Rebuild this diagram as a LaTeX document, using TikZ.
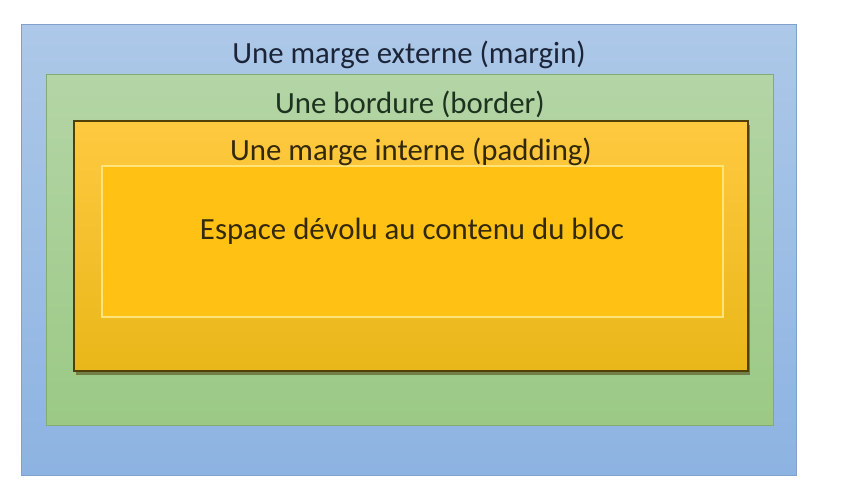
\documentclass[tikz,border=0pt]{standalone}
\usepackage{fontspec}
\setmainfont{Carlito}
\usetikzlibrary{shadows}
\definecolor{blueT}{HTML}{ADC8E8}
\definecolor{blueB}{HTML}{8DB3E2}
\definecolor{greenT}{HTML}{B4D5A6}
\definecolor{greenB}{HTML}{9BC985}
\definecolor{orT}{HTML}{FFC940}
\definecolor{orB}{HTML}{E9B719}
\definecolor{orIn}{HTML}{FFC214}
\definecolor{inLine}{HTML}{FFE47A}
\definecolor{txtBlue}{HTML}{1C2538}
\definecolor{txtGreen}{HTML}{1D3320}
\definecolor{txtBrown}{HTML}{33280A}
\begin{document}
\begin{tikzpicture}[x=1pt,y=-1pt,
  lbl/.style={font=\fontsize{30.8}{36}\selectfont, inner sep=0pt},
  marginbox/.style={top color=blueT, bottom color=blueB, draw=blueB!90!black, line width=0.6pt},
  borderbox/.style={top color=greenT, bottom color=greenB, draw=greenB!85!black, line width=0.6pt},
  paddingbox/.style={top color=orT, bottom color=orB, draw=black!65!orB, line width=1.5pt,
     drop shadow={shadow xshift=2pt, shadow yshift=-3.5pt, opacity=0.5, fill=black!70!orB}},
  contentbox/.style={fill=orIn, draw=inLine, line width=1.3pt}]
\useasboundingbox (0,0) rectangle (843,501);
\fill[white] (0,0) rectangle (843,501);
\path[marginbox] (21,24) rectangle (796,475);
\path[borderbox] (46,74) rectangle (773,425);
\path[paddingbox] (74,121) rectangle (748,371);
\path[contentbox] (102,166) rectangle (723,317);
\node[lbl, text=txtBlue] (m) at (409,55) {Une marge externe (margin)};
\node[lbl, text=txtGreen] (b) at (410,104) {Une bordure (border)};
\node[lbl, text=txtBrown] (p) at (411,152) {Une marge interne (padding)};
\node[lbl, text=txtBrown] (c) at (412,231) {Espace dévolu au contenu du bloc};
\end{tikzpicture}
\end{document}
